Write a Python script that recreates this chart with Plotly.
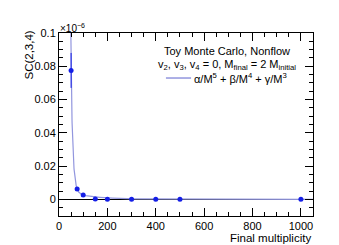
import numpy as np
import plotly.graph_objects as go

# Data (y values in units of 1e-6, as shown on the axis)
mult_final = [50, 75, 100, 150, 200, 300, 400, 500, 1000]
sc234 = [0.0775, 0.0062, 0.0026, 0.0002, 0.0001, 0.0, 0.0, 0.0, 0.0]
sc234_err = [0.0105, 0.0010, 0.0006, 0.0003, 0.0002, 0.0001, 0.0001, 0.0001, 0.0001]

# fit parameters for alpha/M^5 + beta/M^4 + gamma/M^3 (M scaled by 100)
alpha = 0.01056
beta = -0.02459
gamma = 0.01663

x_ticks = [0, 200, 400, 600, 800, 1000]
y_ticks = [0, 0.02, 0.04, 0.06, 0.08, 0.1]
y_ticklabels = ["0", "0.02", "0.04", "0.06", "0.08", "0.1"]

M = np.linspace(30, 1050, 3000)
v = 100.0 / M
fit = v**3 * (gamma + beta * v + alpha * v**2)

FONT = "Liberation Sans, Arial, Helvetica, sans-serif"
curve_color = "rgb(146,150,222)"

fig = go.Figure()
fig.add_trace(go.Scatter(x=M, y=fit, mode="lines",
                         line=dict(color=curve_color, width=1.2),
                         showlegend=False, hoverinfo="skip"))
fig.add_trace(go.Scatter(x=mult_final, y=sc234, mode="markers",
                         marker=dict(color="rgb(20,30,230)", size=5),
                         error_y=dict(type="data", array=sc234_err, color="rgb(20,30,230)",
                                      thickness=1, width=0),
                         showlegend=False))

axis_common = dict(showline=True, linecolor="black", linewidth=1, mirror="ticks",
                   ticks="inside", tickcolor="black", tickwidth=1, ticklen=8,
                   showgrid=False, tickfont=dict(family=FONT, size=11, color="black"))

fig.update_xaxes(range=[0, 1050], tickvals=x_ticks, zeroline=False,
                 minor=dict(dtick=50, tick0=0, ticks="inside", ticklen=4, tickcolor="black", showgrid=False),
                 **axis_common)
fig.update_yaxes(range=[-0.01, 0.1], tickvals=y_ticks, ticktext=y_ticklabels,
                 zeroline=True, zerolinecolor="black", zerolinewidth=1,
                 minor=dict(dtick=0.005, tick0=0, ticks="inside", ticklen=4, tickcolor="black", showgrid=False),
                 **axis_common)

ann_font = dict(family=FONT, size=11, color="black")
fig.add_annotation(text="Toy Monte Carlo, Nonflow", x=0.662, y=0.90, xref="paper", yref="paper",
                   xanchor="center", yanchor="middle", showarrow=False, font=ann_font)
fig.add_annotation(text="v<sub>2</sub>, v<sub>3</sub>, v<sub>4</sub> = 0, M<sub>final</sub> = 2 M<sub>initial</sub>",
                   x=0.662, y=0.825, xref="paper", yref="paper",
                   xanchor="center", yanchor="middle", showarrow=False, font=ann_font)
fig.add_annotation(text="α/M<sup>5</sup> + β/M<sup>4</sup> + γ/M<sup>3</sup>",
                   x=0.524, y=0.754, xref="paper", yref="paper",
                   xanchor="left", yanchor="middle", showarrow=False, font=ann_font)
fig.add_shape(type="line", x0=0.421, x1=0.52, y0=0.754, y1=0.754, xref="paper", yref="paper",
              line=dict(color=curve_color, width=1.5))

fig.add_annotation(text="SC(2,3,4)", x=-0.122, y=0.877, xref="paper", yref="paper",
                   xanchor="center", yanchor="middle", textangle=-90, showarrow=False,
                   font=dict(family=FONT, size=11.5, color="black"))
fig.add_annotation(text="Final multiplicity", x=0.996, y=-0.118, xref="paper", yref="paper",
                   xanchor="right", yanchor="middle", showarrow=False, borderpad=0,
                   font=dict(family=FONT, size=11.5, color="black"))
fig.add_annotation(text="×10<sup>−6</sup>", x=-0.002, y=1.025, xref="paper", yref="paper",
                   xanchor="left", yanchor="middle", showarrow=False,
                   font=dict(family=FONT, size=10, color="black"))

fig.update_layout(width=339, height=245, margin=dict(l=51, r=34, t=25, b=37),
                  paper_bgcolor="white", plot_bgcolor="white", showlegend=False)

fig.write_html("out.html")
